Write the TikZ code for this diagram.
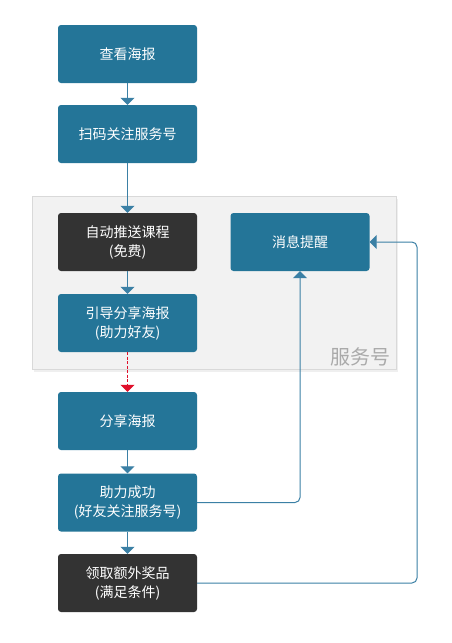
\documentclass[tikz,border=0pt]{standalone}
\usepackage{fontspec}
\newfontfamily\cjk{Noto Sans CJK SC}
\usetikzlibrary{arrows.meta,shadows,positioning}
\definecolor{boxblue}{HTML}{247598}
\definecolor{boxdark}{HTML}{333333}
\definecolor{linkblue}{HTML}{3B80A5}
\definecolor{grpfill}{HTML}{F2F2F2}
\definecolor{grpline}{HTML}{D9D9D9}
\definecolor{grplabel}{HTML}{AAAAAA}
\definecolor{dashred}{HTML}{E0102B}
\tikzset{
  flowbox/.style={rectangle, rounded corners=3pt, minimum width=139pt, minimum height=58pt,
    text=white, align=center, font=\cjk\fontsize{14}{19}\selectfont, inner sep=0pt},
  bluebox/.style={flowbox, fill=boxblue},
  darkbox/.style={flowbox, fill=boxdark},
  link/.style={draw=linkblue, line width=1pt, -{Triangle[width=14pt,length=7pt]}, rounded corners=5pt},
  redlink/.style={draw=dashred, line width=1pt, dash pattern=on 3pt off 1.5pt, -{Triangle[width=14pt,length=7pt,fill=dashred]}},
}
\begin{document}
\begin{tikzpicture}[x=1pt,y=-1pt]
\useasboundingbox (0,0) rectangle (451,643);
\fill[white] (0,0) rectangle (451,643);
% group
\node[draw=grpline, fill=grpfill, minimum width=364pt, minimum height=173pt, inner sep=0pt,
  drop shadow={shadow xshift=2pt, shadow yshift=-3pt, opacity=0.12}] (grp) at (214,282.5) {};
\node[anchor=south east, text=grplabel, font=\cjk\fontsize{20}{22}\selectfont, inner sep=0pt] (grplbl) at (391,366) {服务号};
% boxes
\node[bluebox] (a) at (127.5,54) {查看海报};
\node[bluebox] (b) at (127.5,134) {扫码关注服务号};
\node[darkbox] (c) at (127.5,242) {自动推送课程\\(免费)};
\node[bluebox] (m) at (300,242) {消息提醒};
\node[bluebox] (d) at (127.5,323) {引导分享海报\\(助力好友)};
\node[bluebox] (e) at (127.5,421) {分享海报};
\node[bluebox] (f) at (127.5,502.5) {助力成功\\(好友关注服务号)};
\node[darkbox] (g) at (127.5,583) {领取额外奖品\\(满足条件)};
% connectors
\draw[link] (a) -- (b);
\draw[link] (b) -- (c);
\draw[link] (c) -- (d);
\draw[redlink] (d) -- (e);
\draw[link] (e) -- (f);
\draw[link] (f) -- (g);
\draw[link] (f.east) -| (m.south);
\coordinate (gr) at (417,583);
\draw[link] (g.east) -- (gr) |- (m.east);
\end{tikzpicture}
\end{document}
